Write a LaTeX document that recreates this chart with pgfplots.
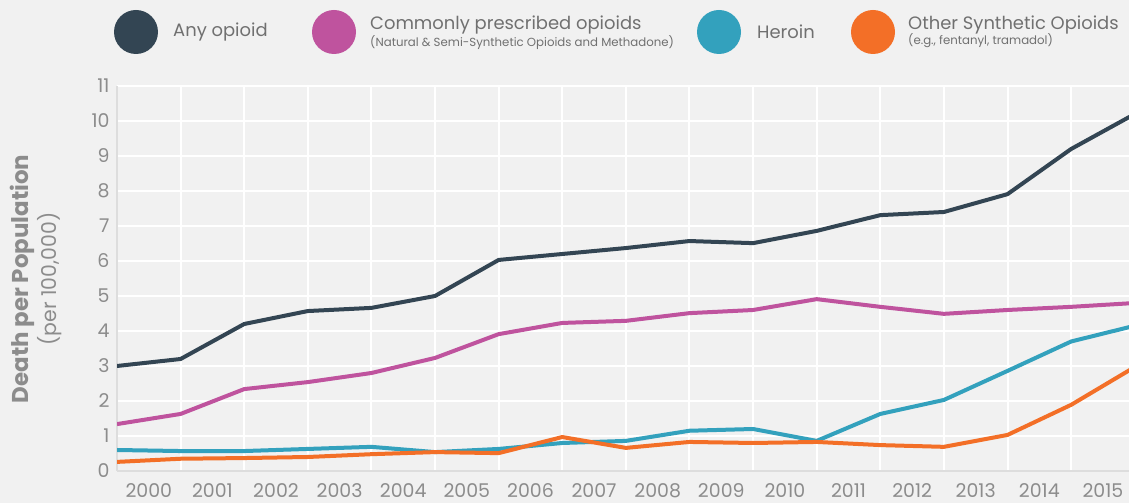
\documentclass[border=0pt]{standalone}
\usepackage{fontspec}
\setmainfont{Poppins}
\usepackage{pgfplots}
\pgfplotsset{compat=1.18}
\definecolor{bgc}{HTML}{F1F1F1}
\definecolor{anyc}{HTML}{334553}
\definecolor{rxc}{HTML}{BF539E}
\definecolor{herc}{HTML}{33A1BD}
\definecolor{sync}{HTML}{F36F27}
\definecolor{tickc}{HTML}{8C8C8C}
\definecolor{textc}{HTML}{707070}
\definecolor{axc}{HTML}{DDDDDD}

\begin{document}
\begin{tikzpicture}[x=1bp,y=1bp]
\fill[bgc] (-117,-32) rectangle (1012,471);
\begin{axis}[
    at={(0,0)}, anchor=south west,
    scale only axis, width=1012bp, height=385bp,
    xmin=0, xmax=15.91, ymin=0, ymax=11,
    axis x line*=bottom, axis y line*=left,
    axis line style={draw=axc, line width=1.5bp, -},
    xtick={0.5,1.5,...,15.5},
    xticklabels={2000,2001,2002,2003,2004,2005,2006,2007,2008,2009,2010,2011,2012,2013,2014,2015},
    minor xtick={1,...,15},
    ytick={0,...,11},
    xmajorgrids=false, xminorgrids=true, ymajorgrids=true,
    grid style={white, line width=2bp},
    minor grid style={white, line width=2bp},
    major tick length=0pt, minor tick length=0pt,
    tick label style={font=\fontsize{19}{19}\selectfont, text=tickc},
    /pgf/number format/assume math mode=true,
    xticklabel style={yshift=-9bp},
    yticklabel style={xshift=-4bp},
    every axis plot/.append style={line width=4bp, line join=round, mark=none},
]
\addplot[anyc] coordinates {(0,3.0)(1,3.2)(2,4.2)(3,4.57)(4,4.66)(5,5.0)(6,6.03)(7,6.2)(8,6.37)(9,6.57)(10,6.51)(11,6.86)(12,7.31)(13,7.4)(14,7.91)(15,9.2)(16,10.2)};
\addplot[rxc] coordinates {(0,1.34)(1,1.63)(2,2.34)(3,2.54)(4,2.8)(5,3.23)(6,3.91)(7,4.23)(8,4.29)(9,4.51)(10,4.6)(11,4.91)(12,4.69)(13,4.49)(14,4.6)(15,4.69)(16,4.8)};
\addplot[herc] coordinates {(0,0.6)(1,0.57)(2,0.57)(3,0.63)(4,0.69)(5,0.54)(6,0.63)(7,0.8)(8,0.86)(9,1.15)(10,1.2)(11,0.86)(12,1.63)(13,2.03)(14,2.86)(15,3.7)(16,4.15)};
\addplot[sync] coordinates {(0,0.26)(1,0.35)(2,0.37)(3,0.4)(4,0.48)(5,0.54)(6,0.51)(7,0.97)(8,0.66)(9,0.83)(10,0.8)(11,0.83)(12,0.74)(13,0.69)(14,1.03)(15,1.89)(16,2.97)};
\end{axis}
% y label
\node[rotate=90, align=center, text=tickc, inner sep=0] at (-81,192)
  {{\fontsize{23}{23}\selectfont\bfseries Death per Population}\\[2bp]{\fontsize{20.5}{20.5}\selectfont (per 100,000)}};
% legend
\fill[anyc] (19,439) circle (22);
\node[anchor=west, inner sep=0, text=textc, font=\fontsize{18}{18}\selectfont] at (56,439) {Any opioid};
\fill[rxc] (217,439) circle (22);
\node[anchor=west, inner sep=0, text=textc, font=\fontsize{18}{18}\selectfont] at (253,446) {Commonly prescribed opioids};
\node[anchor=west, inner sep=0, text=textc, font=\fontsize{11.8}{11.8}\selectfont] at (253,428) {(Natural \& Semi-Synthetic Opioids and Methadone)};
\fill[herc] (602,439) circle (22);
\node[anchor=west, inner sep=0, text=textc, font=\fontsize{18}{18}\selectfont] at (640,439) {Heroin};
\fill[sync] (756,439) circle (22);
\node[anchor=west, inner sep=0, text=textc, font=\fontsize{18}{18}\selectfont] at (791,446) {Other Synthetic Opioids};
\node[anchor=west, inner sep=0, text=textc, font=\fontsize{11.8}{11.8}\selectfont] at (791,430) {(e.g., fentanyl, tramadol)};
\pgfresetboundingbox
\path (-117,-32) rectangle (1012,471);
\end{tikzpicture}
\end{document}
